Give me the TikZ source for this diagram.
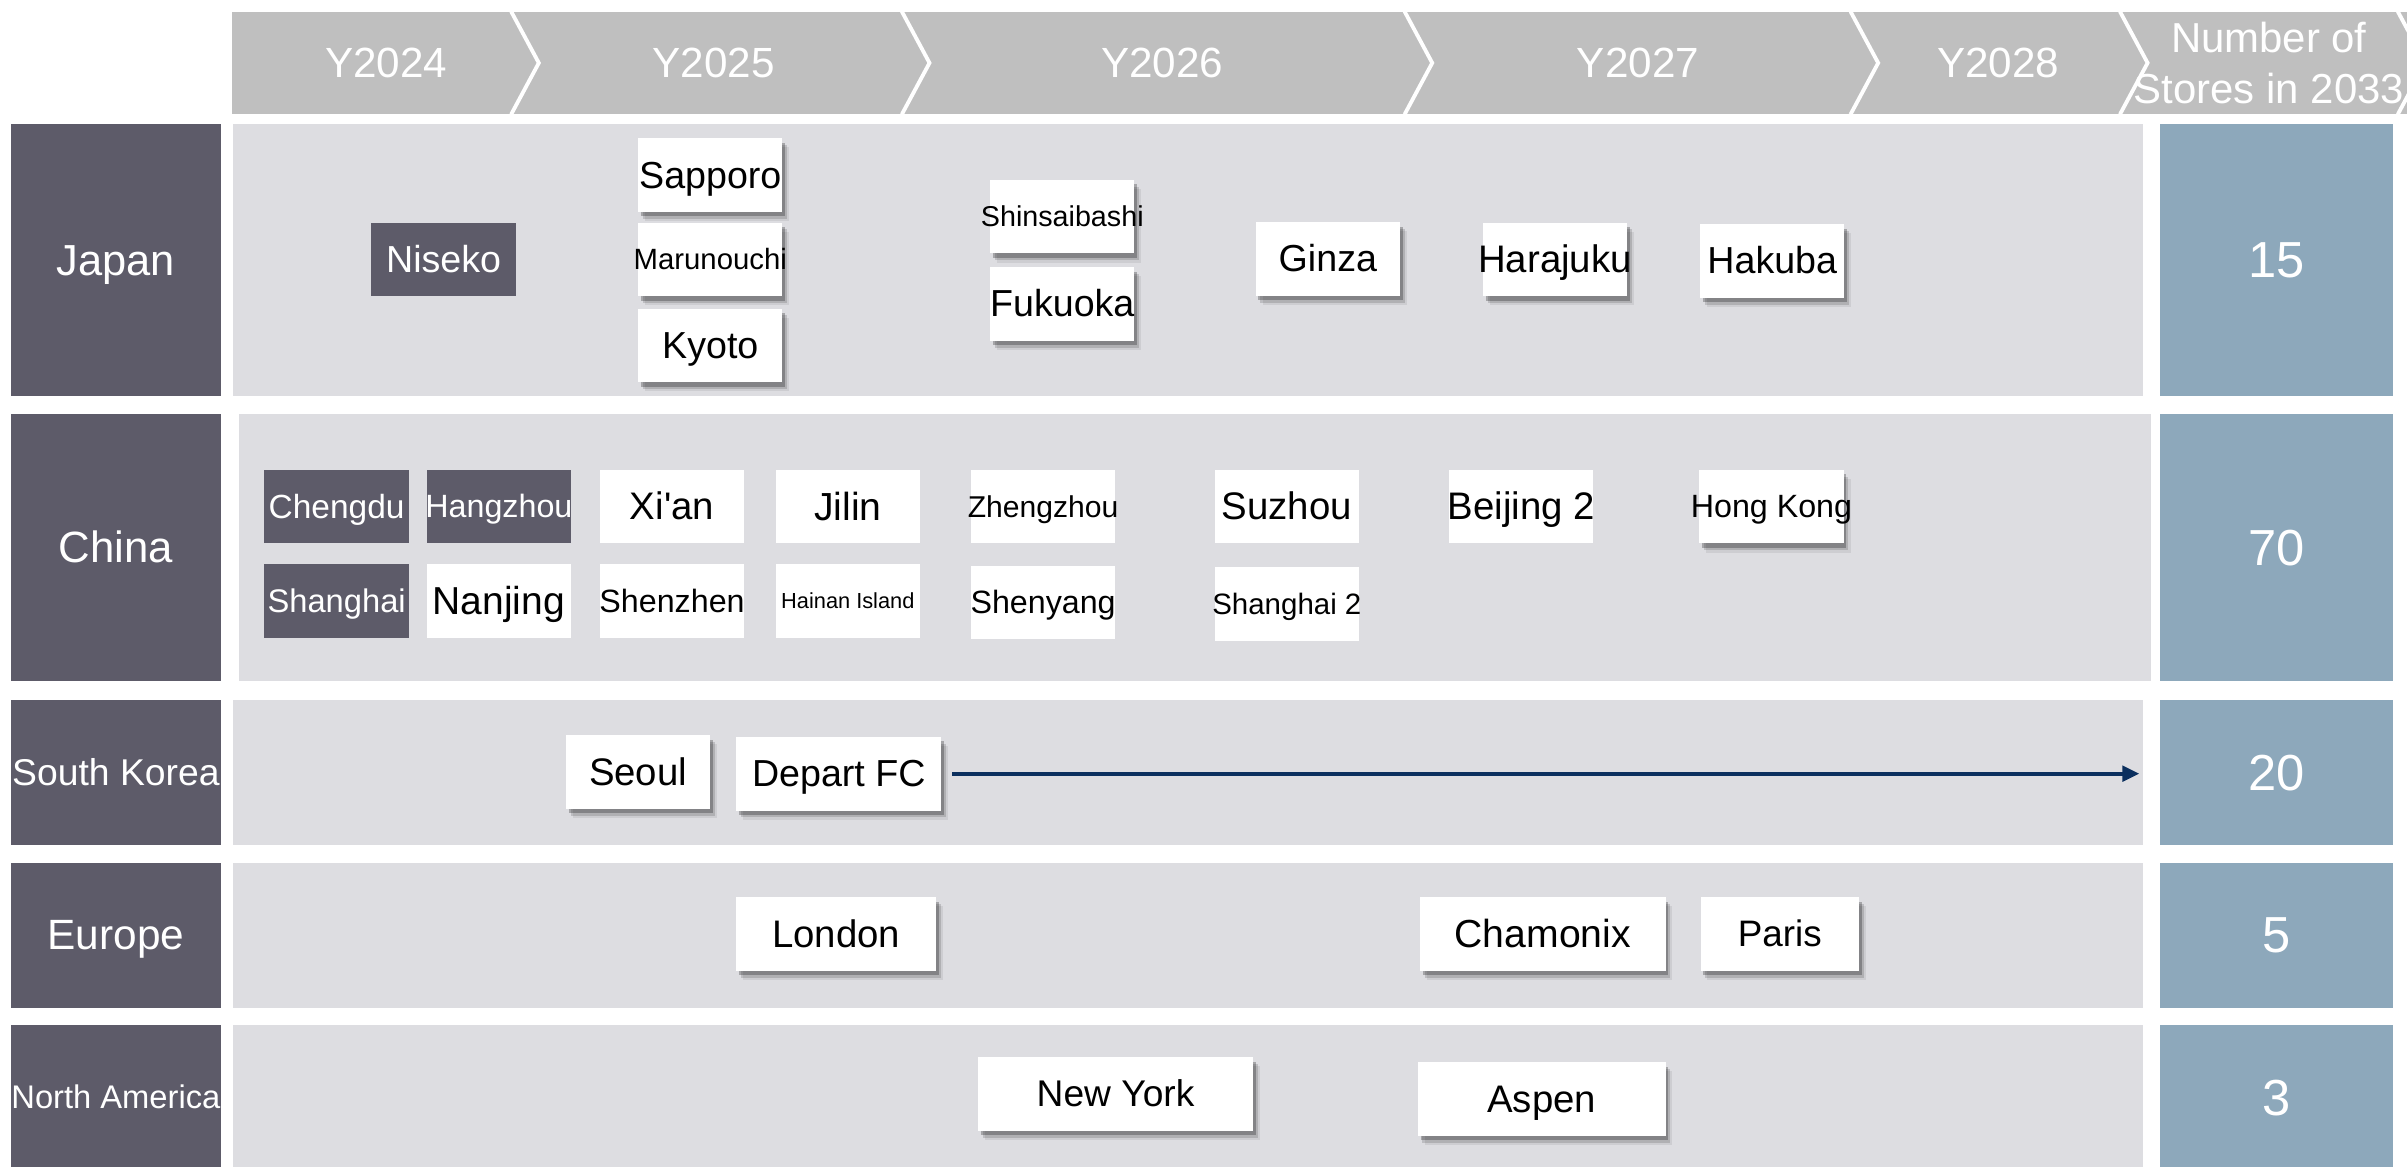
\documentclass[tikz,border=0pt]{standalone}
\usepackage{fontspec}
\setmainfont{Liberation Sans}
\newfontfamily\plainsans{Liberation Sans}
\usetikzlibrary{shadows,arrows.meta}

\definecolor{hdr}{HTML}{BFBFBF}
\definecolor{darkslate}{HTML}{5D5B69}
\definecolor{panelgray}{HTML}{DDDDE1}
\definecolor{steel}{HTML}{8DA8BB}
\definecolor{navy}{HTML}{0B2F5E}

% font size helper, line-box strut and zero-width centred label text
\newcommand\fsz[1]{\fontsize{#1pt}{#1pt}\selectfont}
\newcommand\lh{\rule[-0.212em]{0pt}{1.117em}}
\newcommand\itx[2][24.5]{\makebox[0pt]{\fsz{#1}\lh#2}}

\tikzset{
  lab/.style={fill=darkslate, text=white, inner sep=0pt, minimum width=137pt},
  cnt/.style={fill=steel, text=white, inner sep=0pt, minimum width=152pt, font=\fsz{33}},
  city/.style={fill=white, text=black, inner sep=0pt, minimum width=94pt, minimum height=48pt},
  cityhi/.style={city, fill=darkslate, text=white},
  lifted/.style={
    drop shadow={shadow xshift=4.5pt, shadow yshift=-6pt, opacity=.07, fill=black},
    drop shadow={shadow xshift=3pt, shadow yshift=-4.5pt, opacity=.14, fill=black},
    drop shadow={shadow xshift=1.8pt, shadow yshift=-3pt, opacity=.25, fill=black}},
  yr/.style={text=white, font=\fsz{27.5}},
  chevline/.style={draw=white, line width=2.5pt},
  arrowc/.style={draw=navy, line width=2.4pt, -{Triangle[length=11pt,width=10pt]}}
}

\begin{document}
\begin{tikzpicture}[x=1pt,y=-1pt]
\useasboundingbox (0,0) rectangle (1568,760);

% ---- timeline header ----
\fill[hdr] (151,7.5) rectangle (1590,74.5);
\foreach \sx in {333,587.5,915,1205.5,1381,1562}
  \draw[chevline] (\sx,7.5) -- (\sx+18,41) -- (\sx,74.5);
\node[yr] (y24) at (251.5,41) {\lh Y2024};
\node[yr] (y25) at (465,41) {\lh Y2025};
\node[yr] (y26) at (757,41) {\lh Y2026};
\node[yr] (y27) at (1067,41) {\lh Y2027};
\node[yr] (y28) at (1301.7,41) {\lh Y2028};
\node[text=white, align=center, inner sep=0pt, font=\fontsize{27.3pt}{33pt}\selectfont] (stores) at (1478,41) {Number of\\Stores in 2033};

% ---- row backgrounds ----
\fill[panelgray] (152,81) rectangle (1396,258);
\fill[panelgray] (156,270) rectangle (1401,443.6);
\fill[panelgray] (152,456) rectangle (1396,550.5);
\fill[panelgray] (152,562) rectangle (1396,656.5);
\fill[panelgray] (152,668) rectangle (1396,762);

% ---- region labels ----
\node[lab, minimum height=177pt, font=\fsz{28.3}] (japan) at (75.5,169.5) {\lh Japan};
\node[lab, minimum height=173.6pt, font=\fsz{28.5}] (china) at (75.5,356.8) {\lh China};
\node[lab, minimum height=94.5pt, font=\fsz{24.3}] (korea) at (75.5,503.2) {\lh South Korea};
\node[lab, minimum height=94.5pt, font=\fsz{27.6}] (europe) at (75.5,609.2) {\lh Europe};
\node[lab, minimum height=94pt, font=\fsz{21.3}] (namerica) at (75.5,715) {\makebox[0pt]{\lh North America}};

% ---- store counts ----
\node[cnt, minimum height=177pt] (njapan) at (1483,169.5) {\lh 15};
\node[cnt, minimum height=173.6pt] (nchina) at (1483,356.8) {\lh 70};
\node[cnt, minimum height=94.5pt] (nkorea) at (1483,503.2) {\lh 20};
\node[cnt, minimum height=94.5pt] (neurope) at (1483,609.2) {\lh 5};
\node[cnt, minimum height=94pt] (nnamerica) at (1483,715) {\lh 3};

% ---- Japan ----
\node[cityhi] (niseko) at (289,169) {\itx{Niseko}};
\node[city, lifted] (sapporo) at (462.7,114) {\itx{Sapporo}};
\node[city, lifted] (marunouchi) at (462.7,169) {\itx[19.1]{Marunouchi}};
\node[city, lifted] (kyoto) at (462.7,225) {\itx{Kyoto}};
\node[city, lifted] (shinsaibashi) at (692,141) {\itx[18.7]{Shinsaibashi}};
\node[city, lifted] (fukuoka) at (692,198) {\itx{Fukuoka}};
\node[city, lifted] (ginza) at (865,168.6) {\itx{Ginza}};
\node[city, lifted] (harajuku) at (1013,169) {\itx[25]{Harajuku}};
\node[city, lifted] (hakuba) at (1154.5,170) {\itx{Hakuba}};

% ---- China ----
\node[cityhi] (chengdu) at (219.3,330) {\itx[21.8]{Chengdu}};
\node[cityhi] (hangzhou) at (325,330) {\itx[21]{Hangzhou}};
\node[city] (xian) at (437.8,330) {\itx[25]{\plainsans Xi'an}};
\node[city] (jilin) at (552.3,330) {\itx[25.5]{Jilin}};
\node[city] (zhengzhou) at (679.5,330) {\itx[19.6]{Zhengzhou}};
\node[city] (suzhou) at (838.3,330) {\itx[25]{Suzhou}};
\node[city] (beijing) at (991,330) {\itx[25]{Beijing 2}};
\node[city, lifted] (hongkong) at (1154,330) {\itx[21]{Hong Kong}};
\node[cityhi] (shanghai) at (219.3,391.5) {\itx[21.3]{Shanghai}};
\node[city] (nanjing) at (325,391.5) {\itx[25.4]{Nanjing}};
\node[city] (shenzhen) at (437.8,391.5) {\itx[21]{Shenzhen}};
\node[city] (hainan) at (552.3,391.5) {\itx[14.2]{Hainan Island}};
\node[city] (shenyang) at (679.5,392.5) {\itx[21]{Shenyang}};
\node[city] (shanghaib) at (838.3,393.4) {\itx[19.2]{Shanghai 2}};

% ---- South Korea ----
\node[city, lifted] (seoul) at (415.7,502.8) {\itx[25]{Seoul}};
\node[city, lifted, minimum width=133.6pt] (depart) at (546.4,504) {\itx{Depart FC}};
\coordinate (koreaend) at (1393.6,504);
\draw[arrowc] ([xshift=7pt]depart.east) -- (koreaend);

% ---- Europe ----
\node[city, lifted, minimum width=130.4pt] (london) at (544.8,608.4) {\itx[25]{London}};
\node[city, lifted, minimum width=160pt] (chamonix) at (1005,608.4) {\itx[25.5]{Chamonix}};
\node[city, lifted, minimum width=103.3pt] (paris) at (1159.4,608.4) {\itx[24]{Paris}};

% ---- North America ----
\node[city, lifted, minimum width=179.3pt] (newyork) at (726.7,712.6) {\itx[24.2]{New York}};
\node[city, lifted, minimum width=161.4pt] (aspen) at (1004.3,715.9) {\itx[25]{Aspen}};
\end{tikzpicture}
\end{document}
